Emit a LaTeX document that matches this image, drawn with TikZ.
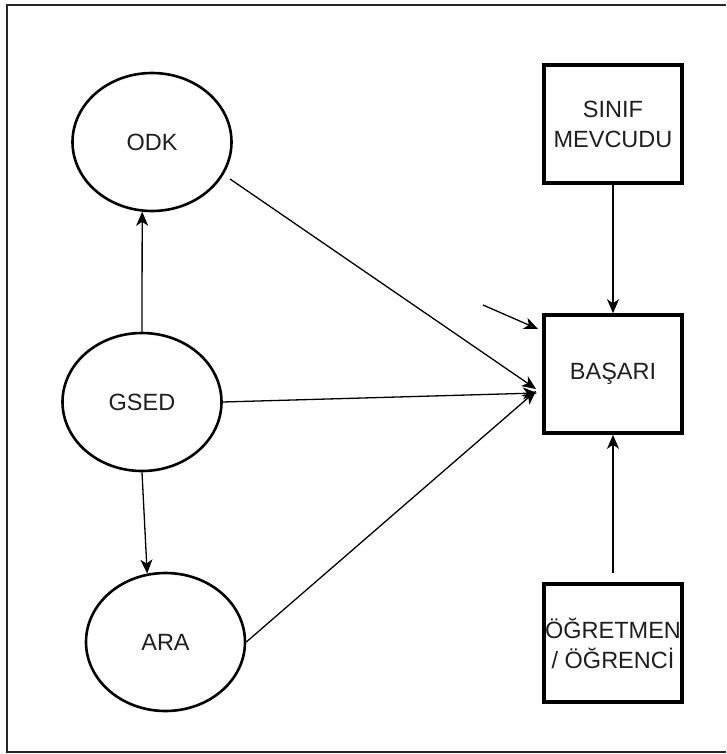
\documentclass[tikz,border=0pt]{standalone}
\usepackage{fontspec}
\setmainfont{Liberation Sans}
\usetikzlibrary{shapes.geometric,arrows.meta,calc}

\tikzset{
  lbl/.style={font=\fontsize{23.5}{30}\selectfont, text=black!88, align=center},
  oval/.style={ellipse, draw, line width=2.6pt, minimum width=159pt, minimum height=138pt, inner sep=0pt, lbl},
  box/.style={rectangle, draw, line width=3.6pt, minimum width=138pt, minimum height=118pt, inner sep=0pt, lbl},
  conn/.style={line width=1.3pt, -{Stealth[length=14pt, width=12pt, inset=4pt]}},
  frame/.style={line width=2pt, black!85}
}

\begin{document}
\begin{tikzpicture}[x=1pt, y=-1pt]
  \useasboundingbox (0,0) rectangle (726,754);

  % outer frame (open on the right)
  \draw[frame] (726,5) -- (7,5) -- (7,752) -- (726,752);

  % latent variables
  \node[oval] (odk)  at (152,142) {ODK};
  \node[oval] (gsed) at (142,402) {GSED};
  \node[oval] (ara)  at (165.5,642) {ARA};

  % observed variables
  \node[box] (sinif)  at (613,124) {SINIF\\MEVCUDU};
  \node[box] (basari) at (613,374) {BAŞARI};
  \node[box] (ogr)    at (613,643) {ÖĞRETMEN\\/ ÖĞRENCİ};

  % connector end points beside BAŞARI
  \coordinate (odkout) at (230,179);
  \coordinate (inodk)  at (536,389);
  \coordinate (ingsed) at (537,393);
  \coordinate (inara)  at (536,391);
  \coordinate (errs)   at (483,305);
  \coordinate (erre)   at (538,329);

  % paths
  \draw[conn] (gsed.north) -- (odk.262);
  \draw[conn] (gsed.south) -- (ara.105);
  \draw[conn] (odkout) -- (inodk);
  \draw[conn] (gsed.east) -- (ingsed);
  \draw[conn] (ara.east) -- (inara);
  \draw[conn] (sinif.south) -- (basari.north);
  \draw[conn, shorten <=9pt] (ogr.north) -- (basari.south);
  \draw[conn] (errs) -- (erre);
\end{tikzpicture}
\end{document}
